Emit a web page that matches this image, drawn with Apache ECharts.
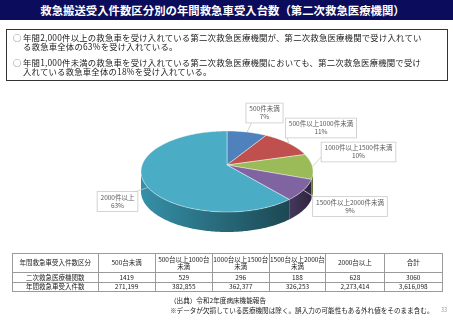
<!DOCTYPE html>
<html lang="ja">
<head>
<meta charset="utf-8">
<script src="https://cdn.jsdelivr.net/npm/echarts@6/dist/echarts.min.js"></script>
<style>
  html, body { margin: 0; padding: 0; background: #fff; }
  body { width: 453px; height: 320px; position: relative; overflow: hidden;
         font-family: "Noto Sans CJK JP", "Noto Sans", sans-serif; color: #222; }
  #chart { position: absolute; left: 0; top: 0; width: 453px; height: 320px; }
  .title-bar { position: absolute; left: 0; top: 0; width: 453px; height: 20px;
               background: #0c0c5c; color: #fff; font-weight: bold; font-size: 11.4px;
               line-height: 20px; text-align: center; padding-right: 8px; box-sizing: border-box; }
  .note-box { position: absolute; left: 6px; top: 29px; width: 442px; height: 52px;
              border: 1.5px solid #333; box-sizing: border-box; }
  .bullet { position: absolute; left: 6px; font-size: 8.4px; line-height: 9.4px;
            white-space: nowrap; color: #222; letter-spacing: 0.2px; }
  .bullet .mark { position: absolute; left: 0; top: 0; color: #555; }
  .bullet .txt { margin-left: 10px; }
  #tbl { position: absolute; left: 12px; top: 253px; width: 430px; border-collapse: collapse;
         table-layout: fixed; font-size: 6.5px; color: #222; }
  #tbl td { border: 1px solid #9a9a9a; text-align: center; padding: 0; line-height: 7.5px;
            white-space: nowrap; overflow: hidden; }
  #tbl tr.head td { height: 18px; }
  #tbl tr.body td { height: 8.5px; }
  .source { position: absolute; left: 170px; top: 296px; font-size: 6.6px; line-height: 9.5px;
            white-space: nowrap; color: #222; }
  .page-no { position: absolute; left: 441px; top: 306px; font-size: 5.5px; color: #999; }
</style>
</head>
<body>
<div id="chart"></div>
<div class="title-bar">救急搬送受入件数区分別の年間救急車受入台数（第二次救急医療機関）</div>
<div class="note-box">
  <div class="bullet" style="top: 3px;"><span class="mark">○</span><div class="txt">年間2,000件以上の救急車を受け入れている第二次救急医療機関が、第二次救急医療機関で受け入れてい<br>る救急車全体の63%を受け入れている。</div></div>
  <div class="bullet" style="top: 28px;"><span class="mark">○</span><div class="txt">年間1,000件未満の救急車を受け入れている第二次救急医療機関においても、第二次救急医療機関で受け<br>入れている救急車全体の18%を受け入れている。</div></div>
</div>
<table id="tbl"></table>
<div class="source">（出典）令和2年度病床機能報告<br>※データが欠損している医療機関は除く。誤入力の可能性もある外れ値をそのまま含む。</div>
<div class="page-no">33</div>
<script>
// 円グラフの区分
const sliceNames = ['500件未満', '500件以上1000件未満', '1000件以上1500件未満', '1500件以上2000件未満', '2000件以上']
// 表の区分
const bandNames = ['500台未満', '500台以上1000台<br>未満', '1000台以上1500台<br>未満', '1500台以上2000台<br>未満', '2000台以上']
// 二次救急医療機関数
const facilityCounts = [1419, 529, 296, 188, 628]
// 年間救急車受入件数
const acceptedCounts = [271199, 382855, 362377, 326253, 2273414]

const sum = arr => arr.reduce((a, b) => a + b, 0)
const fmt = n => n.toLocaleString('en-US')

// 表
const tbl = document.getElementById('tbl')
const colWidths = [85.6, 57, 57.4, 56.6, 56.7, 58.3, 58.4]
tbl.innerHTML =
  '<colgroup>' + colWidths.map(w => `<col style="width:${w}px">`).join('') + '</colgroup>' +
  '<tr class="head"><td>年間救急車受入件数区分</td>' + bandNames.map(b => `<td>${b}</td>`).join('') + '<td>合計</td></tr>' +
  '<tr class="body"><td>二次救急医療機関数</td>' + facilityCounts.map(v => `<td>${v}</td>`).join('') + `<td>${sum(facilityCounts)}</td></tr>` +
  '<tr class="body"><td>年間救急車受入件数</td>' + acceptedCounts.map(v => `<td>${fmt(v)}</td>`).join('') + `<td>${fmt(sum(acceptedCounts))}</td></tr>`

// 3D風の円グラフ
const PIE = { cx: 227, cy: 171.5, rx: 86, ry: 40.5, depth: 20, apexY: 165 }
const topColors = ['#4f81bd', '#c0504d', '#9bbb59', '#8064a2', '#4bacc6']
const sideColors = [
  ['#3d6593', '#2c4a6d'],
  ['#943d3b', '#6e2c2b'],
  ['#7a9446', '#5a6d33'],
  ['#46385c', '#2f2540'],
  ['#3590a8', '#1c4853']
]
const labelBoxes = [[264.5, 113], [321, 128], [358.5, 152], [350, 206.5], [117.5, 201.5]]
const leaderEnds = [[252, 122], [286, 134], [322, 156], [315, 197.5], [133, 192.5]]
const total = sum(acceptedCounts)

const rimPoint = (t, dy) => [PIE.cx + PIE.rx * Math.sin(t), PIE.cy - PIE.ry * Math.cos(t) + (dy || 0)]
const arc = (t0, t1, dy) => {
  const n = Math.max(2, Math.ceil((t1 - t0) / 0.02))
  const pts = []
  for (let k = 0; k <= n; k++) pts.push(rimPoint(t0 + (t1 - t0) * k / n, dy))
  return pts
}

const renderSlice = (params, api) => {
  const i = params.dataIndex
  const before = sum(acceptedCounts.slice(0, i))
  const value = api.value(0)
  const t0 = before / total * Math.PI * 2
  const t1 = (before + value) / total * Math.PI * 2
  const children = []

  // 手前の側面
  const s0 = Math.max(t0, Math.PI / 2)
  const s1 = Math.min(t1, Math.PI * 1.5)
  if (s1 > s0) {
    const upper = arc(s0, s1, 0)
    const lower = arc(s0, s1, PIE.depth).reverse()
    children.push({
      type: 'polygon',
      shape: { points: upper.concat(lower) },
      style: {
        fill: new echarts.graphic.LinearGradient(0, 0, 1, 0, [
          { offset: 0, color: sideColors[i][0] },
          { offset: 1, color: sideColors[i][1] }
        ])
      }
    })
  }

  // 上面
  children.push({
    type: 'polygon',
    shape: { points: [[PIE.cx, PIE.apexY]].concat(arc(t0, t1, 0)) },
    style: { fill: topColors[i], stroke: 'rgba(255,255,255,0.7)', lineWidth: 0.6 }
  })

  // 引き出し線とラベル
  const mid = rimPoint((t0 + t1) / 2)
  children.push({
    type: 'polyline',
    z2: 10,
    shape: { points: [mid, leaderEnds[i]] },
    style: { stroke: '#c8c8c8', lineWidth: 0.8, fill: null }
  })
  const pct = Math.round(value / total * 100)
  children.push({
    type: 'text',
    z2: 20,
    x: labelBoxes[i][0],
    y: labelBoxes[i][1],
    style: {
      text: sliceNames[i] + '\n' + pct + '%',
      fill: '#595959',
      fontSize: 6.5,
      fontFamily: '"Noto Sans CJK JP", sans-serif',
      align: 'center',
      verticalAlign: 'middle',
      textAlign: 'center',
      textVerticalAlign: 'middle',
      lineHeight: 8,
      backgroundColor: '#fff',
      borderColor: '#c8c8c8',
      borderWidth: 0.8,
      padding: [1.5, 3]
    }
  })
  return { type: 'group', children }
}

const chart = echarts.init(document.getElementById('chart'))
chart.setOption({
  animation: false,
  series: [{
    type: 'custom',
    coordinateSystem: 'none',
    renderItem: renderSlice,
    data: acceptedCounts.map((v, i) => ({ name: sliceNames[i], value: v }))
  }]
})
</script>
</body>
</html>
